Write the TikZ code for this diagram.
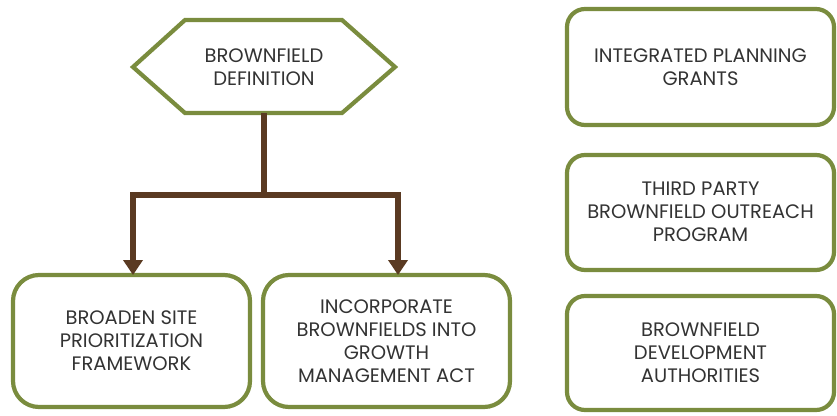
\documentclass[tikz,border=0pt]{standalone}
\usepackage{fontspec}
\setmainfont{Poppins}
\usetikzlibrary{arrows.meta}
\definecolor{olive}{HTML}{7A8C3E}
\definecolor{bark}{HTML}{5A3A22}
\definecolor{ink}{HTML}{333333}
\tikzset{
  x=1pt, y=-1pt,
  label text/.style={text=ink, font=\fontsize{19.5}{23}\selectfont, align=center},
  panel/.style={draw=olive, line width=4.2pt, rounded corners=26pt, fill=white},
  sidepanel/.style={draw=olive, line width=4.2pt, rounded corners=18pt, fill=white},
  link/.style={draw=bark, line width=5.5pt, -{Triangle[length=15pt,width=19pt]}},
}
\begin{document}
\begin{tikzpicture}
\useasboundingbox (0,0) rectangle (837,415);
% decision hexagon
\draw[draw=olive, line width=4.2pt, fill=white, line join=miter]
  (133,67) -- (185,20) -- (342,20) -- (395,67) -- (342,113) -- (185,113) -- cycle;
\node[label text] (def) at (264,67) {BROWNFIELD\\DEFINITION};
\coordinate (defb) at (264,113);
\coordinate (split) at (264,195);
% lower boxes
\draw[panel] (13,275) rectangle (250,407);
\node[label text] (broaden) at (131.5,341) {BROADEN SITE\\PRIORITIZATION\\FRAMEWORK};
\draw[panel] (263,275) rectangle (510,407);
\node[label text] (incorp) at (386.5,341) {INCORPORATE\\BROWNFIELDS INTO\\GROWTH\\MANAGEMENT ACT};
\coordinate (ta) at (133,275);
\coordinate (tb) at (398,275);
% connectors
\draw[draw=bark, line width=5.5pt] (defb) -- (split);
\draw[link] (split) -| (ta);
\draw[link] (split) -| (tb);
% right column
\draw[sidepanel] (567,9) rectangle (834,125);
\node[label text] (grants) at (700.5,67) {INTEGRATED PLANNING\\GRANTS};
\draw[sidepanel] (567,155) rectangle (834,270);
\node[label text] (outreach) at (700.5,212) {THIRD PARTY\\BROWNFIELD OUTREACH\\PROGRAM};
\draw[sidepanel] (567,296) rectangle (834,410);
\node[label text] (bda) at (700.5,353) {BROWNFIELD\\DEVELOPMENT\\AUTHORITIES};
\end{tikzpicture}
\end{document}
